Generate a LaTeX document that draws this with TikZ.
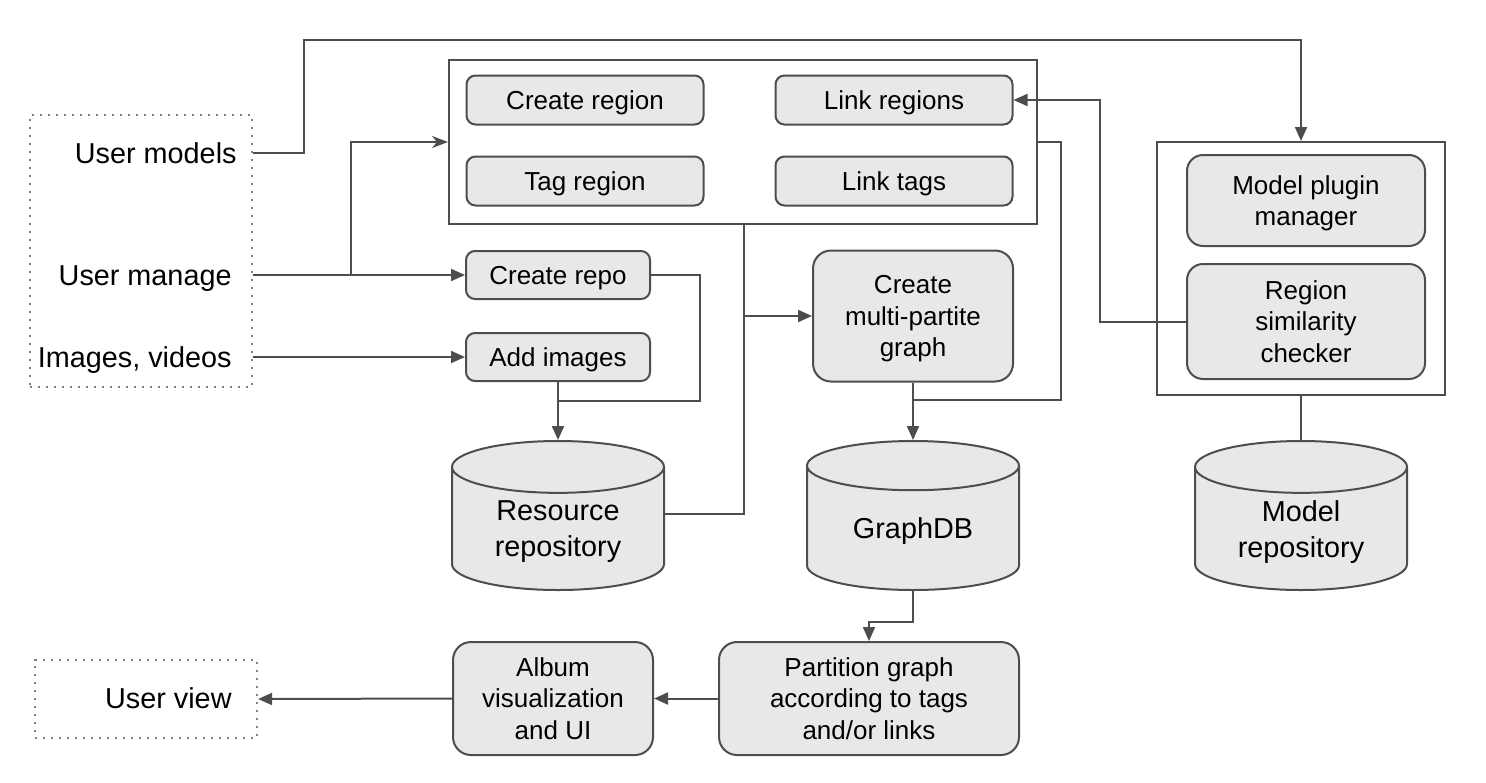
\documentclass[tikz,border=0pt]{standalone}
\usepackage{fontspec}
\setmainfont{Liberation Sans}
\usetikzlibrary{arrows.meta,shapes.geometric}
\definecolor{edge}{RGB}{77,77,77}
\definecolor{boxfill}{RGB}{232,232,232}

\begin{document}
\begin{tikzpicture}[x=0.5pt,y=-0.5pt,
	op/.style={draw=edge,line width=1pt,fill=boxfill,rounded corners=4.5pt,align=center,inner sep=0pt,text depth=0pt,font=\fontsize{13}{15.7}\selectfont},
	oneline/.style={op,text height=9.3pt},
	bigop/.style={op,rounded corners=9pt},
	store/.style={cylinder,shape border rotate=90,aspect=0.41,anchor=north,draw=edge,line width=1pt,fill=boxfill,minimum width=106pt,minimum height=74.5pt,align=center,inner sep=0pt,text depth=0pt,font=\fontsize{14.4}{18}\selectfont},
	frame/.style={draw=edge,line width=1pt,inner sep=0pt},
	actor/.style={draw=gray,line width=1.1pt,dash pattern=on 1.1pt off 2.9pt,inner sep=0pt},
	lbl/.style={anchor=east,inner sep=0pt,text height=10.3pt,text depth=0pt,font=\fontsize{14.4}{18}\selectfont},
	line/.style={draw=edge,line width=1pt},
	flow/.style={line,-{Triangle[length=7pt,width=6pt]}},
	feed/.style={line,-{Stealth[length=8pt,width=6pt,inset=2.5pt]}}]
	\useasboundingbox (0,0) rectangle (1486,782);

	% inputs and output of the user
	\node[actor,minimum width=111pt,minimum height=136pt] (inputs) at (141,251) {};
	\node[lbl] (umodels) at (237,153) {User models};
	\node[lbl] (umanage) at (232,275) {User manage};
	\node[lbl] (imgs) at (232,357) {Images, videos};
	\node[actor,minimum width=111pt,minimum height=39pt] (uview) at (146,699) {};
	\node[lbl] (uviewlbl) at (232,698) {User view};

	% region operations
	\node[frame,minimum width=294pt,minimum height=82pt] (region) at (743,142) {};
	\node[oneline,minimum width=118.5pt,minimum height=24.5pt] (creg) at (585,100) {Create region};
	\node[oneline,minimum width=118.5pt,minimum height=24.5pt] (lreg) at (894,100) {Link regions};
	\node[oneline,minimum width=118.5pt,minimum height=24.5pt] (treg) at (585,181) {Tag region};
	\node[oneline,minimum width=118.5pt,minimum height=24.5pt] (ltag) at (894,181) {Link tags};

	% repository operations
	\node[oneline,minimum width=92pt,minimum height=24pt] (crepo) at (558,275) {Create repo};
	\node[oneline,minimum width=92pt,minimum height=24pt] (addimg) at (558,357) {Add images};
	\node[bigop,minimum width=100pt,minimum height=65.5pt] (mpg) at (913,316) {Create\\multi-partite\\graph};

	% models
	\node[frame,minimum width=144pt,minimum height=126.5pt] (models) at (1301,268.5) {};
	\node[op,rounded corners=8pt,minimum width=119pt,minimum height=45.5pt] (plugin) at (1306,200.5) {Model plugin\\manager};
	\node[op,rounded corners=8pt,minimum width=119pt,minimum height=57.5pt] (simcheck) at (1306,321.5) {Region\\similarity\\checker};

	% storage
	\node[store] (resrepo) at (558,440) {Resource\\repository};
	\node[store] (graphdb) at (913,440) {GraphDB};
	\node[store] (modelrepo) at (1301,440) {Model\\repository};

	% views
	\node[bigop,minimum width=150pt,minimum height=56.5pt] (partition) at (869,698.5) {Partition graph\\according to tags\\and/or links};
	\node[bigop,minimum width=100pt,minimum height=56.5pt] (album) at (553,698.5) {Album\\visualization\\and UI};

	% connectors
	\coordinate (topbend) at (304,40);
	\draw[flow] (inputs.east |- umodels) -| (topbend) -| (models.north);
	\coordinate (split) at (351,275);
	\draw[flow] (inputs.east |- umanage) -- (crepo.west);
	\draw[feed] (split) |- (region.west);
	\draw[flow] (inputs.east |- imgs) -- (addimg.west);

	\coordinate (joinrepo) at (558,401);
	\draw[line] (crepo.east) -- ++(49,0) |- (joinrepo);
	\draw[flow] (addimg.south) -- (resrepo.north);

	\coordinate (bus) at (744,224);
	\draw[line] ([yshift=7.5pt]resrepo.east) -| (bus);
	\draw[flow] (bus |- mpg) -- (mpg.west);

	\coordinate (joindb) at (913,400);
	\draw[line] (region.east) -- ++(23,0) |- (joindb);
	\draw[flow] (mpg.south) -- (graphdb.north);

	\draw[flow] (graphdb.south) -- ++(0,31) -| (partition.north);
	\draw[flow] (partition.west) -- (album.east);
	\draw[flow] (album.west) -- (uview.east);

	\draw[flow] (simcheck.west) -- ++(-86,0) |- (lreg.east);
	\draw[line] (models.south) -- (modelrepo.north);
\end{tikzpicture}
\end{document}
